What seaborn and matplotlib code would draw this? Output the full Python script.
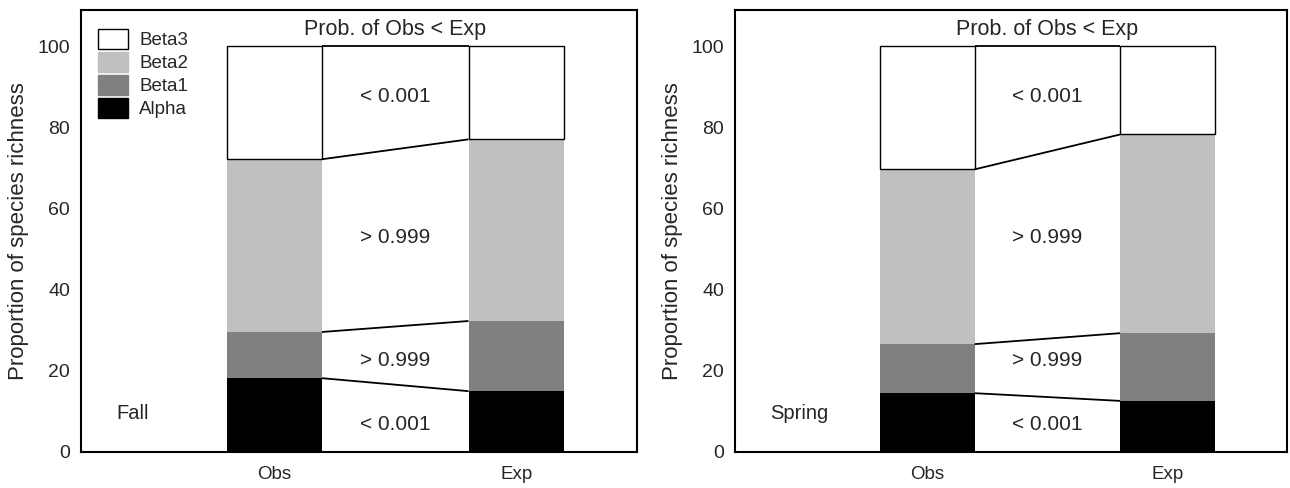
import matplotlib
matplotlib.use("Agg")
import matplotlib.pyplot as plt
import matplotlib.patches as mpatches
import seaborn as sns
import pandas as pd

sns.set_style("white")
plt.rcParams['font.family'] = ['Liberation Sans', 'DejaVu Sans']

categories = ["Obs", "Exp"]
components = ["Alpha", "Beta1", "Beta2", "Beta3"]
colors = {"Alpha": "#000000", "Beta1": "#808080", "Beta2": "#c0c0c0", "Beta3": "#ffffff"}

# segment heights of each component (percent)
fall_alpha = [18.2, 15.0]
fall_beta1 = [11.4, 17.3]
fall_beta2 = [42.6, 44.8]
fall_beta3 = [27.8, 22.9]

spring_alpha = [14.5, 12.6]
spring_beta1 = [12.1, 16.7]
spring_beta2 = [43.1, 49.0]
spring_beta3 = [30.3, 21.7]

prob_labels = ["< 0.001", "> 0.999", "> 0.999", "< 0.001"]  # top to bottom
prob_label_y = [87.6, 53.0, 22.6, 6.7]
season_names = ["Fall", "Spring"]

W = 0.394

fig = plt.figure(figsize=(12.9, 4.88), dpi=100)
ax1 = fig.add_axes([0.0628, 0.0738, 0.431, 0.9057])
ax2 = fig.add_axes([0.5700, 0.0738, 0.428, 0.9057])

def draw(ax, alpha, beta1, beta2, beta3, season):
    layers = {"Alpha": alpha, "Beta1": beta1, "Beta2": beta2, "Beta3": beta3}
    bottoms = [0.0, 0.0]
    bounds = []
    for comp in components:
        vals = layers[comp]
        df = pd.DataFrame({"cat": categories, "val": vals})
        if comp == "Beta3":
            sns.barplot(data=df, x="cat", y="val", ax=ax, color=colors[comp],
                        bottom=bottoms, width=W, edgecolor="black", linewidth=1.0,
                        saturation=1, errorbar=None)
        else:
            sns.barplot(data=df, x="cat", y="val", ax=ax, color=colors[comp],
                        bottom=bottoms, width=W, linewidth=0,
                        saturation=1, errorbar=None)
        bottoms = [b + v for b, v in zip(bottoms, vals)]
        bounds.append(list(bottoms))
    for b in bounds:
        ax.plot([0 + W / 2, 1 - W / 2], [b[0], b[1]], color="black", lw=1.3,
                solid_capstyle="butt")
    for lab, y in zip(prob_labels, prob_label_y):
        ax.text(0.5, y, lab, ha="center", va="center", fontsize=15)
    ax.text(0.5, 104.2, "Prob. of Obs < Exp", ha="center", va="center", fontsize=15.5)
    ax.text(-0.655, 9.5, season, ha="left", va="center", fontsize=14.5)

    ax.set_xlim(-0.8, 1.5)
    ax.set_ylim(0, 109)
    ax.set_yticks([0, 20, 40, 60, 80, 100])
    ax.tick_params(axis="y", labelsize=14, length=0, pad=8)
    ax.tick_params(axis="x", labelsize=13.5, length=0, pad=10)
    ax.set_xlabel("")
    ax.set_ylabel("Proportion of species richness", fontsize=16, labelpad=6)
    for s in ax.spines.values():
        s.set_visible(True)
        s.set_color("black")
        s.set_linewidth(1.5)

draw(ax1, fall_alpha, fall_beta1, fall_beta2, fall_beta3, season_names[0])
draw(ax2, spring_alpha, spring_beta1, spring_beta2, spring_beta3, season_names[1])

handles = [mpatches.Patch(facecolor=colors[c], edgecolor="black" if c == "Beta3" else colors[c],
                          linewidth=1.0, label=c) for c in ["Beta3", "Beta2", "Beta1", "Alpha"]]
ax1.legend(handles=handles, loc="upper left", frameon=False, fontsize=13.5,
           handlelength=1.6, handleheight=1.25, labelspacing=0.15, handletextpad=0.6,
           borderaxespad=0.5, bbox_to_anchor=(0.0, 0.995))

fig.savefig("out.png", dpi=100)
